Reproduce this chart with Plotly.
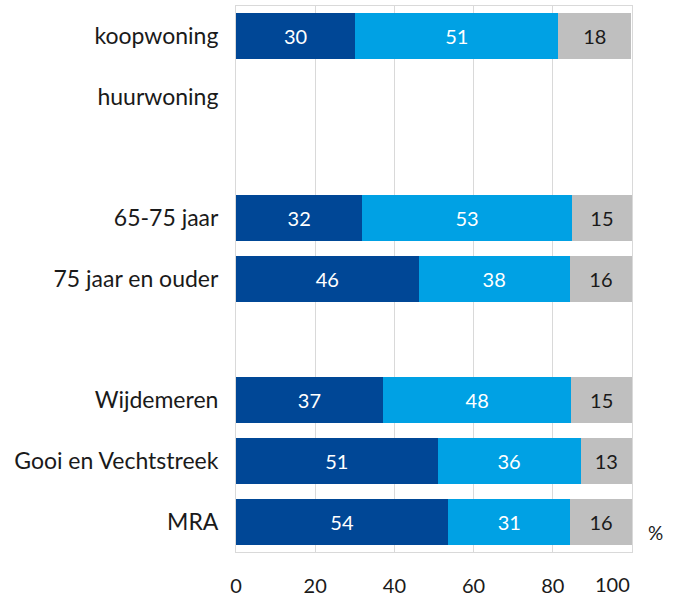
import plotly.graph_objects as go

categories = ["koopwoning", "huurwoning", " ", "65-75 jaar", "75 jaar en ouder", "  ",
              "Wijdemeren", "Gooi en Vechtstreek", "MRA"]
dark_vals = [30.1, None, None, 31.9, 46.1, None, 37.1, 50.9, 53.6]
light_vals = [51.3, None, None, 52.9, 38.2, None, 47.6, 36.1, 30.8]
grey_vals = [18.4, None, None, 15.2, 15.7, None, 15.3, 13.0, 15.6]
x_ticks = [0, 20, 40, 60, 80]
x_last = 100

FONT = "Lato, 'Open Sans', sans-serif"
TXT = "#1a1a1a"
series = [
    (dark_vals, "#004796", "white"),
    (light_vals, "#00a1e4", "white"),
    (grey_vals, "#bfbfbf", TXT),
]

fig = go.Figure()
for vals, color, tcolor in series:
    fig.add_trace(go.Bar(
        y=categories, x=vals, orientation="h",
        marker=dict(color=color, line=dict(width=0)),
        width=0.76,
        texttemplate="%{x:.0f}", textposition="inside", insidetextanchor="middle",
        textfont=dict(family=FONT, size=20, color=tcolor),
        hoverinfo="skip", showlegend=False,
    ))

fig.update_layout(
    barmode="stack",
    width=675, height=596,
    margin=dict(l=236, r=43, t=6, b=44, autoexpand=False),
    paper_bgcolor="white", plot_bgcolor="white",
    font=dict(family=FONT, size=20, color=TXT),
)
fig.update_xaxes(
    range=[0, 100], tickvals=x_ticks + [x_last],
    ticktext=[str(v) for v in x_ticks] + [""],
    showgrid=True, gridcolor="#d9d9d9", gridwidth=1,
    showline=True, linecolor="#d9d9d9", mirror=True, zeroline=False,
    ticks="", ticklabelstandoff=16, automargin=False,
    tickfont=dict(family=FONT, size=20, color=TXT),
)
fig.update_yaxes(
    categoryorder="array", categoryarray=categories, autorange="reversed",
    showgrid=False, showline=True, linecolor="#d9d9d9", mirror=True,
    ticks="", ticklabelstandoff=12, automargin=False,
    tickfont=dict(family=FONT, size=23, color=TXT),
)
# last x tick label sits right-aligned to the plot edge, as in the reference
fig.add_annotation(
    text=str(x_last), xref="x", yref="paper", x=x_last, y=0,
    xanchor="right", yanchor="top", yshift=-18, showarrow=False,
    font=dict(family=FONT, size=20, color=TXT),
)
fig.add_annotation(
    text="%", xref="paper", yref="paper", x=1.0, y=0.0,
    xanchor="left", yanchor="bottom", xshift=14, yshift=6, showarrow=False,
    font=dict(family=FONT, size=19, color=TXT),
)

fig.write_html("out.html", config={"displayModeBar": False},
               post_script="document.body.style.margin='0';")
